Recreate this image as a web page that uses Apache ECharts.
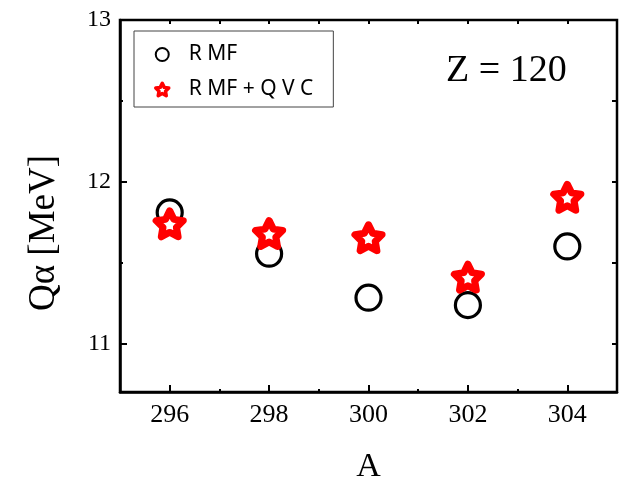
<!DOCTYPE html>
<html>
<head>
<meta charset="utf-8">
<script src="https://cdn.jsdelivr.net/npm/echarts@6/dist/echarts.min.js"></script>
<style>
  html, body { margin: 0; padding: 0; background: #fff; }
  #chart { width: 625px; height: 481px; }
</style>
</head>
<body>
<div id="chart"></div>
<script>
// mass number A
const massNumbers = [296, 298, 300, 302, 304];
// Q alpha values [MeV]
const rmfValues = [11.81, 11.555, 11.283, 11.237, 11.60];
const rmfQvcValues = [11.74, 11.68, 11.654, 11.41, 11.904];

const xMajorTicks = [296, 298, 300, 302, 304];
const xMinorTicks = [297, 299, 301, 303];
const yMajorTicks = [11, 12, 13];
const yMinorTicks = [11.5, 12.5];

const serifFont = '"Liberation Serif", "Times New Roman", serif';
const starPath = 'path://M50 0 L64.69 29.77 L97.55 34.55 L73.78 57.73 L79.39 90.45 L50 75 L20.61 90.45 L26.22 57.73 L2.45 34.55 L35.31 29.77 Z';

const element = document.getElementById('chart');
const chart = echarts.init(element, null, { renderer: 'canvas' });

function extraAxis(pos, ticks, len, min, max) {
    return {
        type: 'value', position: pos, min: min, max: max,
        axisLine: { show: false },
        axisLabel: { show: false },
        splitLine: { show: false },
        axisTick: { show: true, inside: true, length: len, customValues: ticks, lineStyle: { color: '#000', width: 2 } }
    };
}

chart.setOption({
    animation: false,
    grid: {
        left: 120, right: 8, top: 20, bottom: 89,
        show: true, borderColor: '#000', borderWidth: 2.5,
        outerBoundsMode: 'none'
    },
    legend: {
        left: 134, top: 31,
        orient: 'vertical',
        padding: [13, 20, 7, 20],
        itemGap: 14,
        itemWidth: 13, itemHeight: 13,
        borderColor: '#444', borderWidth: 1,
        textStyle: { fontFamily: '"Noto Sans", sans-serif', fontSize: 21, color: '#000', padding: [0, 0, 0, 15] },
        data: [
            { name: 'R MF', itemStyle: { borderWidth: 2, opacity: 1 } },
            { name: 'R MF + Q V C', itemStyle: { borderWidth: 3.5, opacity: 1 } }
        ]
    },
    xAxis: [
        {
            type: 'value', min: 295, max: 305, position: 'bottom',
            name: 'A', nameLocation: 'middle', nameGap: 58,
            nameTextStyle: { fontFamily: serifFont, fontSize: 34, color: '#000' },
            axisLine: { lineStyle: { color: '#000', width: 2.5 } },
            axisTick: { inside: true, length: 7, customValues: xMajorTicks, lineStyle: { color: '#000', width: 2 } },
            axisLabel: { customValues: xMajorTicks, margin: 10, fontFamily: serifFont, fontSize: 26, color: '#000' },
            splitLine: { show: false }
        },
        extraAxis('bottom', xMinorTicks, 3, 295, 305),
        extraAxis('top', xMajorTicks.concat(xMinorTicks), 4, 295, 305)
    ],
    yAxis: [
        {
            type: 'value', min: 10.7, max: 13, position: 'left',
            axisLine: { show: true, lineStyle: { color: '#000', width: 2.5 } },
            axisTick: { show: true, inside: true, length: 7, customValues: yMajorTicks, lineStyle: { color: '#000', width: 2 } },
            axisLabel: { customValues: yMajorTicks, margin: 9, fontFamily: serifFont, fontSize: 24, color: '#000' },
            splitLine: { show: false }
        },
        extraAxis('left', yMinorTicks, 3, 10.7, 13),
        extraAxis('right', yMajorTicks.concat(yMinorTicks), 5, 10.7, 13)
    ],
    graphic: [
        {
            type: 'text', x: 44, y: 233, rotation: Math.PI / 2,
            style: { text: 'Q\u03b1 [MeV]', font: '37px ' + serifFont, fill: '#000', align: 'center', verticalAlign: 'middle' }
        },
        {
            type: 'text', left: 446, top: 52,
            style: { text: 'Z = 120', font: '38px ' + serifFont, fill: '#000' }
        }
    ],
    series: [
        {
            name: 'R MF', type: 'scatter',
            data: massNumbers.map((a, i) => [a, rmfValues[i]]),
            symbol: 'circle', symbolSize: 25,
            itemStyle: { color: 'rgba(0,0,0,0)', borderColor: '#000', borderWidth: 3.2, opacity: 1 }
        },
        {
            name: 'R MF + Q V C', type: 'scatter',
            data: massNumbers.map((a, i) => [a, rmfQvcValues[i]]),
            symbol: starPath, symbolSize: [27, 26],
            itemStyle: { color: '#fff', borderColor: '#ff0000', borderWidth: 7, borderJoin: 'round', opacity: 1 }
        }
    ]
});
</script>
</body>
</html>
